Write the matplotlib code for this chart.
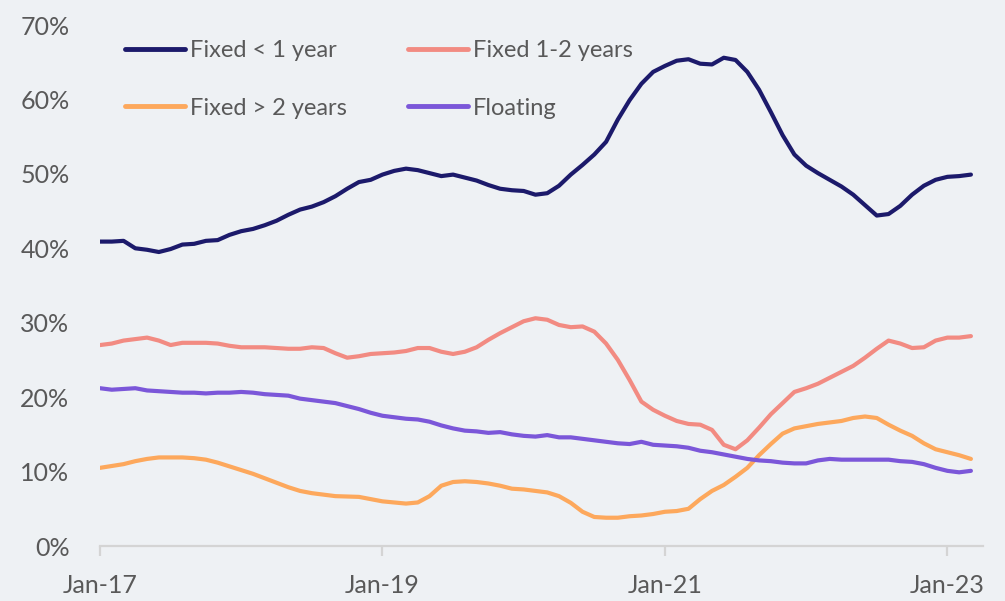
import numpy as np
import pandas as pd
import matplotlib
matplotlib.use("Agg")
import matplotlib.pyplot as plt

# monthly share of new lending by rate type, Jan-17 .. Mar-23
months = pd.date_range("2017-01-01", "2023-03-01", freq="MS")

fixed_lt1 = [
    40.9, 40.9, 41.0, 40.0, 39.8, 39.5, 39.9, 40.5, 40.6, 41.0,
    41.1, 41.8, 42.3, 42.6, 43.1, 43.7, 44.5, 45.2, 45.6, 46.2,
    47.0, 48.0, 48.9, 49.2, 49.9, 50.4, 50.7, 50.5, 50.1, 49.7,
    49.9, 49.5, 49.1, 48.5, 48.0, 47.8, 47.7, 47.2, 47.4, 48.4,
    49.9, 51.2, 52.6, 54.3, 57.3, 59.9, 62.1, 63.7, 64.5, 65.2,
    65.4, 64.8, 64.7, 65.6, 65.3, 63.7, 61.3, 58.3, 55.2, 52.6,
    51.1, 50.1, 49.2, 48.3, 47.2, 45.8, 44.4, 44.6, 45.7, 47.2,
    48.4, 49.2, 49.6, 49.7, 49.9,
]
fixed_1_2 = [
    27.0, 27.2, 27.6, 27.8, 28.0, 27.6, 27.0, 27.3, 27.3, 27.3,
    27.2, 26.9, 26.7, 26.7, 26.7, 26.6, 26.5, 26.5, 26.7, 26.6,
    25.9, 25.3, 25.5, 25.8, 25.9, 26.0, 26.2, 26.6, 26.6, 26.1,
    25.8, 26.1, 26.7, 27.7, 28.6, 29.4, 30.2, 30.6, 30.4, 29.7,
    29.4, 29.5, 28.8, 27.2, 25.0, 22.3, 19.4, 18.3, 17.5, 16.8,
    16.4, 16.3, 15.6, 13.6, 13.0, 14.2, 15.9, 17.7, 19.2, 20.7,
    21.2, 21.8, 22.6, 23.4, 24.2, 25.3, 26.5, 27.6, 27.2, 26.6,
    26.7, 27.6, 28.0, 28.0, 28.2,
]
fixed_gt2 = [
    10.5, 10.75, 11.0, 11.4, 11.7, 11.9, 11.9, 11.9, 11.8, 11.6,
    11.2, 10.7, 10.2, 9.7, 9.1, 8.5, 7.9, 7.4, 7.1, 6.9,
    6.7, 6.65, 6.6, 6.3, 6.0, 5.85, 5.7, 5.85, 6.7, 8.1,
    8.6, 8.7, 8.6, 8.4, 8.1, 7.7, 7.6, 7.4, 7.2, 6.7,
    5.8, 4.6, 3.9, 3.8, 3.8, 4.0, 4.1, 4.3, 4.6, 4.7,
    5.0, 6.3, 7.4, 8.2, 9.3, 10.5, 12.2, 13.7, 15.1, 15.8,
    16.1, 16.4, 16.6, 16.8, 17.2, 17.4, 17.2, 16.3, 15.5, 14.8,
    13.8, 13.0, 12.6, 12.2, 11.7,
]
floating = [
    21.2, 21.0, 21.1, 21.2, 20.9, 20.8, 20.7, 20.6, 20.6, 20.5,
    20.6, 20.6, 20.7, 20.6, 20.4, 20.3, 20.2, 19.8, 19.6, 19.4,
    19.2, 18.8, 18.4, 17.9, 17.5, 17.3, 17.1, 17.0, 16.7, 16.2,
    15.8, 15.5, 15.4, 15.2, 15.3, 15.0, 14.8, 14.7, 14.9, 14.6,
    14.6, 14.4, 14.2, 14.0, 13.8, 13.7, 14.0, 13.6, 13.5, 13.4,
    13.2, 12.8, 12.6, 12.3, 12.0, 11.7, 11.5, 11.4, 11.2, 11.1,
    11.1, 11.5, 11.7, 11.6, 11.6, 11.6, 11.6, 11.6, 11.4, 11.3,
    11.0, 10.5, 10.1, 9.9, 10.1,
]

series = [
    ("Fixed < 1 year", fixed_lt1, "#1c1a6b"),
    ("Fixed > 2 years", fixed_gt2, "#fda85c"),
    ("Fixed 1-2 years", fixed_1_2, "#f28b82"),
    ("Floating", floating, "#7b57d9"),
]

bg = "#eef1f4"
txt = "#595959"

fig = plt.figure(figsize=(10.05, 6.01), dpi=100, facecolor=bg)
ax = fig.add_axes([0.0995, 0.0915, 0.8783, 0.8669], facecolor=bg)

x = np.arange(len(months))
for name, vals, col in series:
    ax.plot(x, vals, color=col, lw=3.0, label=name, solid_capstyle="round",
            solid_joinstyle="round")

ax.set_xlim(0, 75)
ax.set_ylim(0, 70)
ax.set_yticks(range(0, 71, 10))
ax.set_yticklabels([f"{v}%" for v in range(0, 71, 10)])

tick_idx = [i for i, m in enumerate(months) if m.month == 1 and m.year % 2 == 1]
ax.set_xticks(tick_idx)
ax.set_xticklabels([months[i].strftime("%b-%y") for i in tick_idx])

for s in ["top", "right", "left"]:
    ax.spines[s].set_visible(False)
ax.spines["bottom"].set_color("#d4d4d4")
ax.spines["bottom"].set_linewidth(1.6)

ax.tick_params(axis="y", length=0, pad=22, labelsize=18, labelcolor=txt)
ax.tick_params(axis="x", length=7, width=1.6, color="#d4d4d4", direction="out",
               pad=13, labelsize=18, labelcolor=txt)
for lab in ax.get_xticklabels() + ax.get_yticklabels():
    lab.set_fontfamily("Lato")

leg = ax.legend(ncol=2, loc="upper left", bbox_to_anchor=(0.004, 1.012),
                frameon=False, handlelength=2.55, handletextpad=0.2,
                columnspacing=2.6, labelspacing=1.55,
                prop={"family": "Lato", "size": 17})
for t in leg.get_texts():
    t.set_color(txt)
for h in leg.get_lines():
    h.set_linewidth(3.5)

fig.savefig("out.png", dpi=100, facecolor=bg)
